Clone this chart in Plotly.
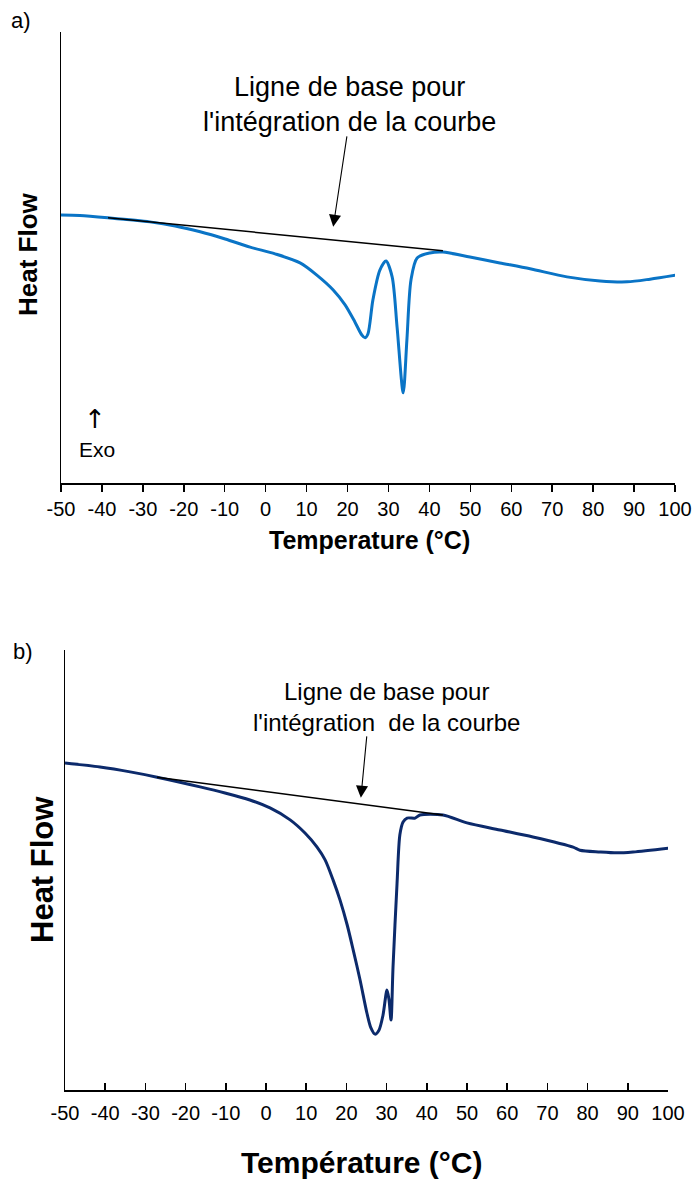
import plotly.graph_objects as go

# ---- data (heat flow in arbitrary units) ----
temp_a = [-50, -45.4, -38.5, -28.3, -22.1, -16.0, -9.9, -3.8, 2.3, 8.4, 12.5, 16.5,
          19.4, 21.8, 23.5, 24.3, 25.0, 26.2, 27.9, 29.4, 30.9, 32.1, 33.6, 34.5,
          35.5, 37.0, 40.1, 43.3, 49.9, 57.2, 64.6, 73.6, 81.7, 88.3, 93.9, 100.2]
heat_a = [5.94, 5.93, 5.88, 5.79, 5.70, 5.57, 5.41, 5.23, 5.08, 4.88, 4.61, 4.28,
          3.95, 3.57, 3.28, 3.22, 3.31, 4.06, 4.72, 4.92, 4.57, 3.46, 2.00, 3.17,
          4.50, 4.99, 5.10, 5.12, 5.01, 4.88, 4.75, 4.57, 4.48, 4.46, 4.52, 4.61]
base_a_t = [-38.5, 43.3]
base_a_h = [5.88, 5.15]

temp_b = [-50, -41.3, -33.8, -27.1, -16.4, -10.2, -4.0, 1.0, 6.0, 9.7, 12.7, 14.7,
          16.7, 18.4, 20.2, 21.7, 23.4, 25.1, 26.1, 27.1, 28.1, 29.1, 30.1, 30.6,
          31.1, 31.6, 32.6, 33.3, 34.1, 35.1, 37.1, 38.3, 44.0, 50.0, 58.2, 66.4,
          76.4, 78.1, 83.1, 87.3, 91.3, 100.3]
heat_b = [7.43, 7.34, 7.23, 7.11, 6.89, 6.75, 6.59, 6.41, 6.14, 5.84, 5.52, 5.23,
          4.77, 4.32, 3.75, 3.18, 2.50, 1.75, 1.41, 1.27, 1.36, 1.70, 2.27, 2.05,
          1.59, 2.80, 4.70, 5.80, 6.09, 6.18, 6.18, 6.25, 6.25, 6.07, 5.91, 5.75,
          5.52, 5.45, 5.41, 5.39, 5.41, 5.50]
base_b_t = [-27.1, 44.0]
base_b_h = [7.11, 6.25]

tick_vals = [-50, -40, -30, -20, -10, 0, 10, 20, 30, 40, 50, 60, 70, 80, 90, 100]
tick_text = [str(v) for v in tick_vals]

W, H = 694, 1180
def px(x):
    return x / W
def py(y):
    return 1 - y / H

FONT = "Liberation Sans, Arial, sans-serif"

fig = go.Figure()
fig.add_trace(go.Scatter(x=temp_a, y=heat_a, mode="lines",
                         line=dict(color="#0A74C6", width=3, shape="spline", smoothing=0.8),
                         xaxis="x", yaxis="y", hoverinfo="skip"))
fig.add_trace(go.Scatter(x=base_a_t, y=base_a_h, mode="lines",
                         line=dict(color="black", width=1.5),
                         xaxis="x", yaxis="y", hoverinfo="skip"))
fig.add_trace(go.Scatter(x=temp_b, y=heat_b, mode="lines",
                         line=dict(color="#0C2A6B", width=3, shape="spline", smoothing=0.8),
                         xaxis="x2", yaxis="y2", hoverinfo="skip"))
fig.add_trace(go.Scatter(x=base_b_t, y=base_b_h, mode="lines",
                         line=dict(color="black", width=1.5),
                         xaxis="x2", yaxis="y2", hoverinfo="skip"))

common_x = dict(range=[-50, 100], tickmode="array", tickvals=tick_vals, ticktext=tick_text,
                showline=True, linecolor="black", linewidth=1.5, showgrid=False,
                zeroline=False, ticklen=7, tickwidth=1.5, tickcolor="black",
                automargin=False, ticklabeloverflow="allow")
common_y = dict(range=[0, 10], showline=True, linecolor="black", linewidth=1.5,
                showgrid=False, zeroline=False, showticklabels=False, ticks="",
                automargin=False)

fig.update_layout(
    width=W, height=H, margin=dict(l=0, r=0, t=0, b=0, autoexpand=False),
    paper_bgcolor="white", plot_bgcolor="white", showlegend=False,
    xaxis=dict(common_x, domain=[px(61), px(675)], anchor="y", ticks="outside",
               tickfont=dict(family=FONT, size=20, color="black")),
    yaxis=dict(common_y, domain=[py(483), py(32)], anchor="x"),
    xaxis2=dict(common_x, domain=[px(65), px(668)], anchor="y2", ticks="inside",
                ticklabelstandoff=4,
                tickfont=dict(family=FONT, size=20, color="black")),
    yaxis2=dict(common_y, domain=[py(1090), py(650)], anchor="x2"),
)

def note(text, x, y, size, angle=0, family=FONT):
    return dict(text=text, x=px(x), y=py(y), xref="paper", yref="paper",
                xanchor="center", yanchor="middle", showarrow=False, textangle=angle,
                font=dict(family=family, size=size, color="black"))

ann = [
    note("a)", 21, 21, 22),
    note("b)", 23, 651, 22),
    note("<b>Temperature (°C)</b>", 369, 540, 25),
    note("<b>Température (°C)</b>", 361, 1162, 30),
    note("<b>Heat Flow</b>", 28, 254, 26, angle=-90),
    note("<b>Heat Flow</b>", 42, 870, 31, angle=-90),
    note("↑", 95, 419, 26, family="DejaVu Sans, sans-serif"),
    note("Exo", 97, 449, 21),
    note("Ligne de base pour<br>l'intégration de la courbe", 349, 105, 27),
    note("Ligne de base pour<br>l'intégration  de la courbe", 386, 707, 24),
]
ann.append(dict(text="", x=16.5, y=5.68, xref="x", yref="y", ax=19.9, ay=7.72,
                axref="x", ayref="y", showarrow=True, arrowhead=2, arrowsize=2.2,
                arrowwidth=1.1, arrowcolor="black"))
ann.append(dict(text="", x=23.6, y=6.64, xref="x2", yref="y2", ax=25.1, ay=8.07,
                axref="x2", ayref="y2", showarrow=True, arrowhead=2, arrowsize=2.2,
                arrowwidth=1.1, arrowcolor="black"))
fig.update_layout(annotations=ann)

# remove the default page margin so the figure fills the 694x1180 window exactly
fig.write_html("out.html", config={"displayModeBar": False, "staticPlot": True},
               post_script="document.body.style.margin='0';document.body.style.overflow='hidden';")
